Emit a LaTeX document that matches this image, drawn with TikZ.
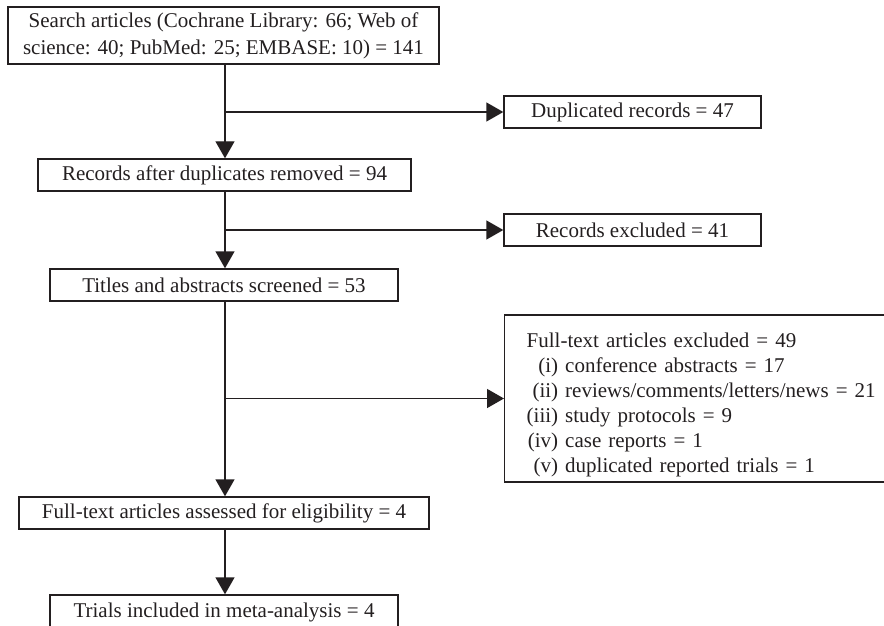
\documentclass[tikz,border=0pt]{standalone}
\usepackage{fontspec}
\setmainfont{Liberation Serif}
\usetikzlibrary{arrows.meta}
\definecolor{ink}{HTML}{231F20}
\begin{document}
\begin{tikzpicture}[x=0.5pt,y=-0.5pt,
  box/.style={draw=ink,line width=0.7pt,rectangle,inner sep=0pt,text=ink,
    font=\fontsize{10.5}{12.7}\selectfont,align=center},
  arr/.style={draw=ink,line width=0.7pt,-{Triangle[length=8.5pt,width=9.5pt]}},
  ln/.style={draw=ink,line width=0.7pt}]
\useasboundingbox (0,0) rectangle (884,626);
\coordinate (spine) at (225,0);
\node[box,minimum width=215.5pt,minimum height=28.5pt,font=\fontsize{10.5}{13.6}\selectfont] (b1) at (223.5,35.5)
  {Search articles (Cochrane Library: 66; Web of\\science: 40; PubMed: 25; EMBASE: 10) = 141};
\node[box,minimum width=186.5pt,minimum height=16pt] (b2) at (224.5,175) {Records after duplicates removed = 94};
\node[box,minimum width=128.5pt,minimum height=16pt] (dup) at (632.5,112) {Duplicated records = 47};
\node[box,minimum width=128.5pt,minimum height=16pt] (exc) at (632.5,230) {Records excluded = 41};
\node[box,minimum width=174pt,minimum height=16pt] (b3) at (224,285) {Titles and abstracts screened = 53};
\node[box,anchor=west,inner xsep=11pt,text width=185pt,minimum height=83.5pt,align=left] (ft) at (504,398.5)
  {\raisebox{-3pt}[\height][\depth]{\begin{tabular}{@{}r@{\ }l@{}}
   \multicolumn{2}{@{}l}{Full-text articles excluded = 49}\\[-0.2pt]
   (i) & conference abstracts = 17\\[-0.2pt]
   (ii) & reviews/comments/letters/news = 21\\[-0.2pt]
   (iii) & study protocols = 9\\[-0.2pt]
   (iv) & case reports = 1\\[-0.2pt]
   (v) & duplicated reported trials = 1
   \end{tabular}}};
\node[box,minimum width=205pt,minimum height=16pt] (b4) at (224,513) {Full-text articles assessed for eligibility = 4};
\node[box,minimum width=174pt,minimum height=17pt] (b5) at (224,612) {Trials included in meta-analysis = 4};
% spine
\draw[arr] (b1.south -| spine) -- (b2.north -| spine);
\draw[arr] (spine |- dup.west) -- (dup.west);
\draw[arr] (b2.south -| spine) -- (b3.north -| spine);
\draw[arr] (spine |- exc.west) -- (exc.west);
\draw[arr] (b3.south -| spine) -- (b4.north -| spine);
\draw[arr] (spine |- ft.west) -- (ft.west);
\draw[arr] (b4.south -| spine) -- (b5.north -| spine);
\end{tikzpicture}
\end{document}
